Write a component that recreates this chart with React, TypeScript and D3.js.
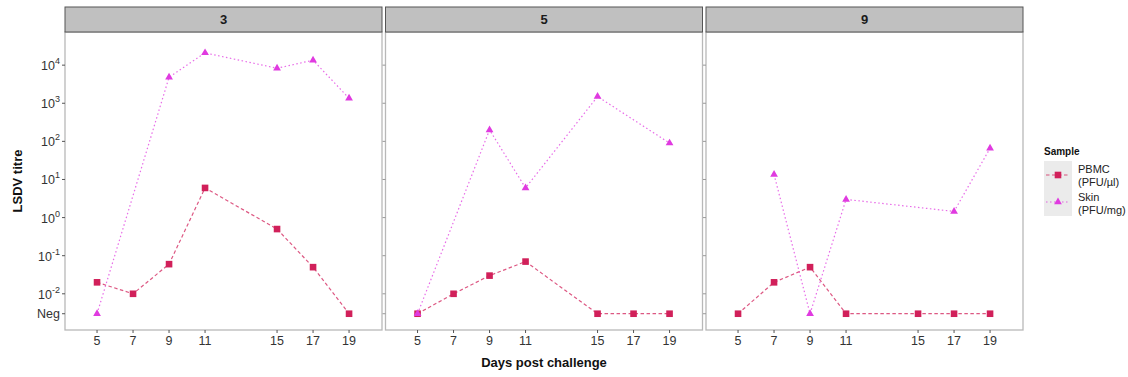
import React from "react";
import * as d3 from "d3";

const NEG = 0.003;
const days = [5, 7, 9, 11, 15, 17, 19];
const panelLabels = ["3", "5", "9"];
const pbmc3 = [0.02, 0.01, 0.06, 6, 0.5, 0.05, NEG];
const skin3 = [NEG, null, 4800, 21000, 8300, 13500, 1350];
const pbmc5 = [NEG, 0.01, 0.03, 0.07, NEG, NEG, NEG];
const skin5 = [NEG, null, 200, 6, 1500, null, 90];
const pbmc9 = [NEG, 0.02, 0.05, NEG, NEG, NEG, NEG];
const skin9 = [null, 13.5, NEG, 3, null, 1.45, 66];
const yTickExps = [4, 3, 2, 1, 0, -1, -2];

const PBMC_COL = "#d1205a";
const SKIN_COL = "#e03ae0";

const W = 1128, H = 377;
const left = 65, panelW = 317, gap = 3.5;
const stripTop = 7, top = 32, bottom = 330;
const font = "Liberation Sans, Arial, sans-serif";

export default function App() {
  const x = d3.scaleLinear().domain([3.22, 20.83]).range([0, panelW]);
  const y = d3.scaleLog().domain([Math.pow(10, -2.95), Math.pow(10, 4.87)]).range([bottom, top]);

  const series = [
    [pbmc3, skin3],
    [pbmc5, skin5],
    [pbmc9, skin9],
  ];

  const line = d3.line<any>()
    .defined(d => d.v != null)
    .x(d => x(d.day))
    .y(d => y(d.v));

  const tri = d3.symbol().type(d3.symbolTriangle).size(26)();

  return (
    <svg width={W} height={H} style={{ position: "absolute", left: 0, top: 0 }} fontFamily={font}>
      <rect width={W} height={H} fill="#fff" />
      {panelLabels.map((lab, i) => {
        const px = left + i * (panelW + gap);
        const [pb, sk] = series[i];
        const pbPts = days.map((d, j) => ({ day: d, v: pb[j] })).filter(p => p.v != null);
        const skPts = days.map((d, j) => ({ day: d, v: sk[j] })).filter(p => p.v != null);
        const tickCol = i === 0 ? "#555" : "#999";
        return (
          <g key={lab} transform={`translate(${px},0)`}>
            <rect x={0} y={top} width={panelW} height={bottom - top} fill="#fff" stroke="#b8b8b8" strokeWidth={1.3} />
            <rect x={0} y={stripTop} width={panelW} height={top - stripTop} fill="#c0c0c0" stroke="#555" strokeWidth={1} />
            <text x={panelW / 2} y={(stripTop + top) / 2 + 4.5} textAnchor="middle" fontSize={13} fontWeight="bold" fill="#1a1a1a">{lab}</text>
            {yTickExps.map(e => (
              <line key={e} x1={-3} x2={0} y1={y(Math.pow(10, e))} y2={y(Math.pow(10, e))} stroke={tickCol} strokeWidth={1} />
            ))}
            <line x1={-3} x2={0} y1={y(NEG)} y2={y(NEG)} stroke={tickCol} strokeWidth={1} />
            {days.map(d => (
              <g key={d}>
                <line x1={x(d)} x2={x(d)} y1={bottom} y2={bottom + 3} stroke="#555" strokeWidth={1} />
                <text x={x(d)} y={bottom + 15} textAnchor="middle" fontSize={12.5} fill="#333">{d}</text>
              </g>
            ))}
            <path d={line(skPts) || ""} fill="none" stroke={SKIN_COL} strokeOpacity={0.75} strokeWidth={1.2} strokeDasharray="1.5,2.5" />
            <path d={line(pbPts) || ""} fill="none" stroke={PBMC_COL} strokeOpacity={0.75} strokeWidth={1.2} strokeDasharray="3.5,2.5" />
            {pbPts.map(p => (
              <rect key={"p" + p.day} x={x(p.day) - 3.3} y={y(p.v) - 3.3} width={6.6} height={6.6} fill={PBMC_COL} />
            ))}
            {skPts.map(p => (
              <path key={"s" + p.day} d={tri} transform={`translate(${x(p.day)},${y(p.v)})`} fill={SKIN_COL} />
            ))}
          </g>
        );
      })}
      {yTickExps.map(e => (
        <text key={e} x={60} y={y(Math.pow(10, e)) + 5} textAnchor="end" fontSize={12.5} fill="#333">
          10<tspan dy={-6} fontSize={9}>{e}</tspan>
        </text>
      ))}
      <text x={60} y={y(NEG) + 4.5} textAnchor="end" fontSize={12.5} fill="#333">Neg</text>
      <text transform={`translate(22,${(top + bottom) / 2}) rotate(-90)`} textAnchor="middle" fontSize={13} fontWeight="bold" fill="#111">LSDV titre</text>
      <text x={(left + left + 3 * panelW + 2 * gap) / 2} y={367} textAnchor="middle" fontSize={13} fontWeight="bold" fill="#111">Days post challenge</text>
      <g transform="translate(1044,0)">
        <text x={0} y={155} fontSize={10} fontWeight="bold" fill="#111">Sample</text>
        <rect x={0} y={161} width={28} height={27} fill="#ebebeb" />
        <rect x={0} y={188} width={28} height={28} fill="#ebebeb" />
        <line x1={2} x2={26} y1={175} y2={175} stroke={PBMC_COL} strokeOpacity={0.75} strokeWidth={1.2} strokeDasharray="3.5,2.5" />
        <rect x={10.7} y={171.7} width={6.6} height={6.6} fill={PBMC_COL} />
        <line x1={2} x2={26} y1={202} y2={202} stroke={SKIN_COL} strokeOpacity={0.75} strokeWidth={1.2} strokeDasharray="1.5,2.5" />
        <path d={tri} transform="translate(14,202)" fill={SKIN_COL} />
        <text x={34} y={173} fontSize={11} fill="#222">PBMC</text>
        <text x={34} y={186} fontSize={11} fill="#222">(PFU/µl)</text>
        <text x={34} y={201} fontSize={11} fill="#222">Skin</text>
        <text x={34} y={214} fontSize={11} fill="#222">(PFU/mg)</text>
      </g>
    </svg>
  );
}
